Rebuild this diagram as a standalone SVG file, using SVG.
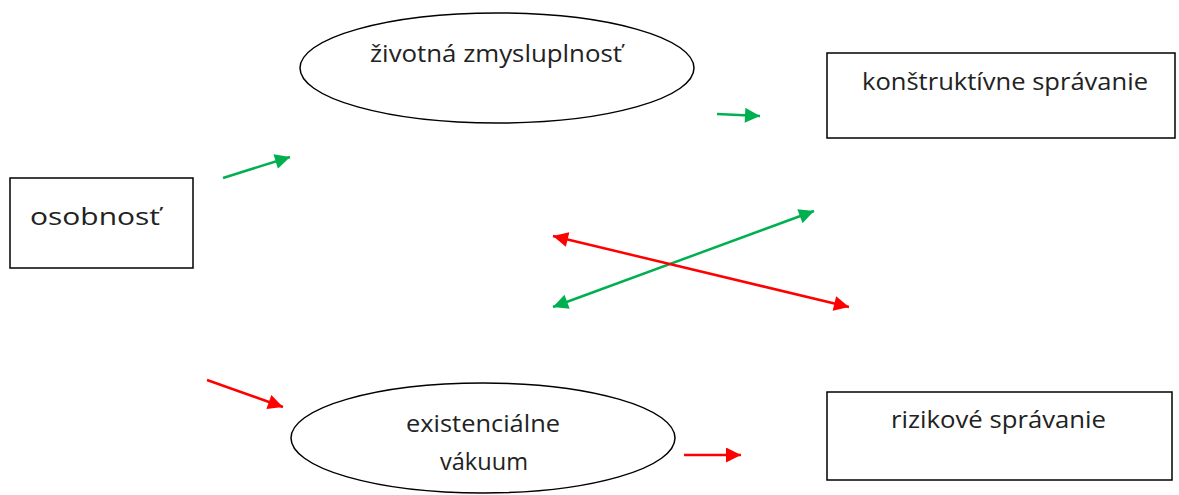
<svg xmlns="http://www.w3.org/2000/svg" width="1179" height="495" viewBox="0 0 1179 495">
<style>
.box{fill:#fff;stroke:#000;stroke-width:1.5}
.t{font-family:"Open Sans","Liberation Sans",sans-serif;font-size:24.5px;fill:#222}
.g{stroke:#00B050;stroke-width:2.5;fill:none}
.r{stroke:#FF0000;stroke-width:2.5;fill:none}
</style>
<defs>
<marker id="ag" viewBox="0 0 10 10" refX="10" refY="5" markerWidth="19" markerHeight="15" markerUnits="userSpaceOnUse" orient="auto-start-reverse"><path d="M0,0L10,5L0,10z" fill="#00B050"/></marker>
<marker id="ar" viewBox="0 0 10 10" refX="10" refY="5" markerWidth="19" markerHeight="15" markerUnits="userSpaceOnUse" orient="auto-start-reverse"><path d="M0,0L10,5L0,10z" fill="#FF0000"/></marker>
</defs>
<rect width="1179" height="495" fill="#fff"/>
<g id="osobnost"><rect class="box" x="10" y="178" width="183" height="90"/><text class="t" x="30" y="225" textLength="130" lengthAdjust="spacingAndGlyphs">osobnosť</text></g>
<g id="zmysluplnost"><ellipse class="box" cx="497" cy="68" rx="197" ry="55"/><text class="t" x="370" y="62" textLength="252" lengthAdjust="spacingAndGlyphs">životná zmysluplnosť</text></g>
<g id="vakuum"><ellipse class="box" cx="483" cy="438" rx="192" ry="55"/><text class="t" x="406" y="432" textLength="154" lengthAdjust="spacingAndGlyphs">existenciálne</text><text class="t" x="440" y="470" textLength="88" lengthAdjust="spacingAndGlyphs">vákuum</text></g>
<g id="konstruktivne"><rect class="box" x="827" y="53" width="348" height="85"/><text class="t" x="862" y="90" textLength="286" lengthAdjust="spacingAndGlyphs">konštruktívne správanie</text></g>
<g id="rizikove"><rect class="box" x="827" y="392" width="345" height="88"/><text class="t" x="891" y="428" textLength="215" lengthAdjust="spacingAndGlyphs">rizikové správanie</text></g>
<g id="connectors">
<line class="g" x1="223" y1="178" x2="290" y2="157" marker-end="url(#ag)"/>
<line class="g" x1="717" y1="114" x2="760" y2="116" marker-end="url(#ag)"/>
<line class="g" x1="553" y1="307" x2="814" y2="211" marker-start="url(#ag)" marker-end="url(#ag)"/>
<line class="r" x1="553" y1="236" x2="849" y2="307" marker-start="url(#ar)" marker-end="url(#ar)"/>
<line class="r" x1="207" y1="380" x2="283" y2="407" marker-end="url(#ar)"/>
<line class="r" x1="684" y1="455" x2="741" y2="455" marker-end="url(#ar)"/>
</g>
</svg>
